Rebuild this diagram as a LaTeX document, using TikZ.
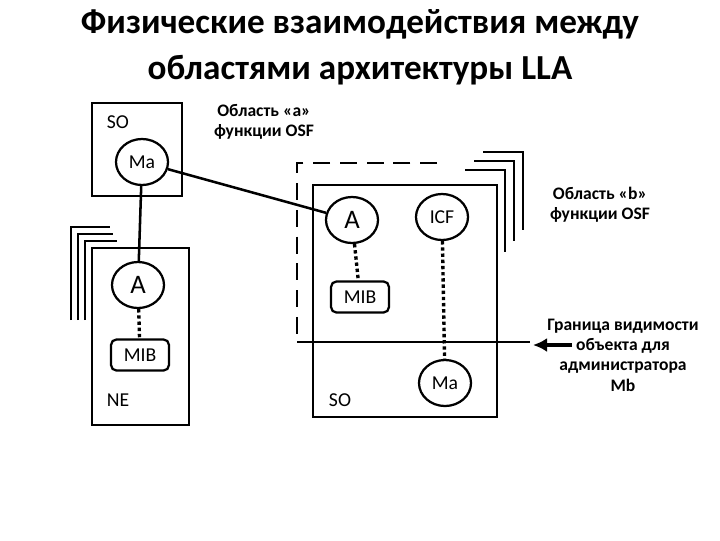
\documentclass[tikz,border=0pt]{standalone}
\usepackage{fontspec}
\setmainfont{Carlito}
\usetikzlibrary{arrows.meta,shapes.geometric,positioning}
\tikzset{
  obj/.style={ellipse, draw, line width=1.6pt, minimum width=1.3cm, minimum height=1.15cm, inner sep=0pt, font=\fontsize{14}{14}\selectfont},
  mib/.style={draw, rounded corners=4pt, line width=1.6pt, minimum width=1.45cm, minimum height=0.78cm, inner sep=0pt, font=\fontsize{14}{14}\selectfont},
  box/.style={line width=1.6pt},
  link/.style={line width=1.8pt},
  dots/.style={line width=2.4pt, dotted},
  lbl/.style={align=center, font=\bfseries\fontsize{12.5}{14.5}\selectfont}
}
\begin{document}
\begin{tikzpicture}[x=0.025cm, y=-0.025cm]
\useasboundingbox (0,0) rectangle (720,540);
% title
\node[align=center, font=\bfseries\fontsize{25}{33}\selectfont] (title) at (360,47) {Физические взаимодействия между\\областями архитектуры LLA};
% left side
\draw[box] (92,103) rectangle (182,196);
\node[font=\fontsize{14}{14}\selectfont] (so1) at (118,122) {SO};
\node[obj] (ma1) at (142,162) {Ma};
\foreach \d in {7,14,21}
  \draw[box] (92-\d,320) -- (92-\d,248-\d) -- (120-\d/2,248-\d);
\draw[box, fill=white] (92,248) rectangle (189,425);
\node[obj, font=\fontsize{19}{19}\selectfont] (a1) at (138,285) {A};
\node[mib] (mib1) at (140,355) {MIB};
\node[font=\fontsize{14}{14}\selectfont] (ne) at (118,400) {NE};
\draw[link] (ma1) -- (a1);
\draw[dots] (a1) -- (mib1);
% right side
\foreach \d in {0,9,18}
  \draw[box] (465+\d,170-\d) -- (505+\d,170-\d) -- (505+\d,252-\d*1.2);
\draw[box, dash pattern=on 12pt off 7pt] (437,163) -- (297,163) -- (297,342);
\draw[box] (297,342) -- (530,342);
\draw[box] (313,185) rectangle (497,417);
\node[obj, font=\fontsize{19}{19}\selectfont, fill=white] (a2) at (352,220) {A};
\node[obj] (icf) at (442,217) {ICF};
\node[mib] (mib2) at (360,297) {MIB};
\node[obj] (ma2) at (445,383) {Ma};
\node[font=\fontsize{14}{14}\selectfont] (so2) at (340,400) {SO};
\draw[link] (ma1) -- (a2);
\draw[dots] (a2) -- (mib2);
\draw[dots] (icf) -- (ma2);
% labels
\node[lbl] (areaa) at (264,122) {Область «a»\\функции OSF};
\node[lbl] (areab) at (600,205) {Область «b»\\функции OSF};
\node[lbl] (bound) at (623,355) {Граница видимости\\объекта для\\администратора\\Mb};
\coordinate (tip) at (533,345);
\draw[line width=2.6pt, -{Latex[length=10pt,width=10pt]}] (572,345) -- (tip);
\end{tikzpicture}
\end{document}
